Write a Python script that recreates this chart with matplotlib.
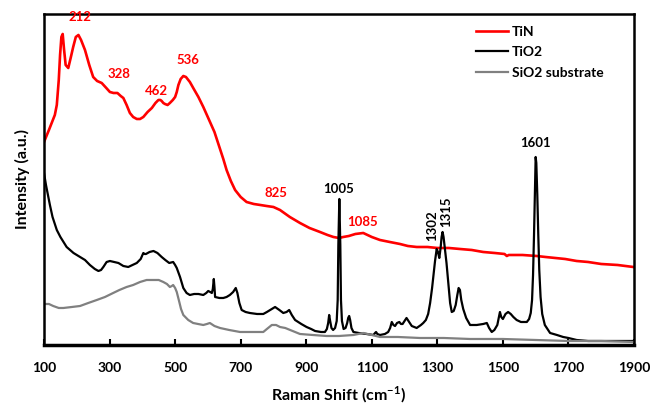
import numpy as np
import matplotlib
matplotlib.use('Agg')
import matplotlib.pyplot as plt

plt.rcParams['font.family'] = ['Lato', 'DejaVu Sans']
plt.rcParams['font.weight'] = 'bold'
plt.rcParams['mathtext.fontset'] = 'custom'
plt.rcParams['mathtext.rm'] = 'Lato'
plt.rcParams['mathtext.bf'] = 'Lato:bold'

# TiN spectrum (Raman shift, intensity a.u.)
tin_x = [100, 115, 133, 139, 145, 149, 153, 157, 161, 166, 174, 182, 189, 197, 205, 213,
         225, 238, 250, 262, 276, 290, 301, 312, 324, 334, 342, 352, 362, 372, 383,
         393, 403, 416, 429, 440, 449, 455, 459, 464, 469, 477, 484, 493, 500, 505,
         510, 517, 525, 533, 545, 557, 571, 586, 601, 620, 637, 647, 657, 670, 683,
         700, 718, 740, 760, 779, 800, 820, 850, 881, 910, 942, 965, 983, 1000, 1013,
         1030, 1050, 1074, 1100, 1125, 1155, 1186, 1210, 1237, 1270, 1300, 1335, 1369,
         1405, 1440, 1475, 1505, 1512, 1518, 1525, 1560, 1603, 1630, 1660, 1690, 1725,
         1760, 1800, 1850, 1898]
tin_y = [203, 215, 230, 240, 265, 290, 308, 311, 296, 280, 277, 288, 298, 308, 310, 305,
         295, 280, 268, 264, 262, 257, 253, 252, 252, 249, 247, 240, 232, 228, 226,
         226, 228, 233, 237, 242, 245, 245, 244, 242, 241, 240, 242, 245, 248, 253,
         260, 266, 269, 268, 263, 256, 248, 238, 227, 213, 196, 186, 175, 164, 155,
         148, 143, 141, 140, 139, 138, 135, 128, 122, 117, 113, 110, 108, 107, 108,
         109, 111, 112, 108, 105, 103, 101, 99, 98, 98, 97, 97, 96,
         95, 93, 92, 91, 89, 90, 90, 90, 89, 88, 87, 86, 84,
         83, 81, 80, 78]

# TiO2 spectrum
tio2_x = [100, 106, 112, 118, 126, 139, 150, 169, 190, 210, 225, 240, 255, 266, 274,
          281, 291, 301, 314, 327, 342, 357, 370, 383, 395, 403, 407, 411, 422, 434,
          446, 459, 470, 482, 494, 500, 505, 515, 525, 535, 545, 558, 571, 586, 595,
          601, 607, 612, 615, 618, 620, 622, 635, 647, 657, 667, 677, 685, 690, 696,
          703, 715, 728, 750, 769, 780, 790, 805, 818, 830, 840, 848, 856, 866, 885,
          901, 915, 927, 945, 957, 963, 967, 970, 973, 977, 982, 988, 993, 996, 998,
          1001, 1004, 1006, 1009, 1014, 1020, 1025, 1028, 1031, 1034, 1038, 1044, 1060, 1084,
          1105, 1110, 1113, 1117, 1125, 1140, 1150, 1156, 1161, 1166, 1171, 1177, 1184,
          1189, 1194, 1200, 1206, 1214, 1222, 1237, 1250, 1257, 1265, 1272, 1278, 1284,
          1289, 1293, 1298, 1302, 1306, 1310, 1313, 1316, 1319, 1323, 1328, 1334, 1339,
          1344, 1350, 1356, 1361, 1365, 1369, 1373, 1379, 1388, 1400, 1420, 1440, 1451,
          1458, 1466, 1474, 1483, 1488, 1491, 1495, 1500, 1508, 1516, 1524, 1532, 1542,
          1555, 1565, 1573, 1580, 1585, 1589, 1592, 1595, 1598, 1600, 1602, 1605, 1608,
          1611, 1615, 1620, 1628, 1644, 1665, 1684, 1700, 1725, 1760, 1800, 1850, 1898]
tio2_y = [172, 160, 150, 140, 128, 115, 108, 98, 92, 88, 85, 80, 76, 74, 75,
          78, 83, 84, 83, 82, 79, 78, 80, 82, 86, 92, 91, 91, 93, 94,
          92, 88, 85, 82, 83, 80, 77, 68, 57, 52, 50, 51, 51, 50, 52,
          54, 53, 52, 56, 66, 58, 48, 47, 47, 48, 50, 53, 57, 52, 42,
          35, 33, 32, 31, 31, 33, 35, 38, 35, 32, 33, 35, 30, 25, 21,
          18, 16, 14, 13, 13, 16, 22, 30, 24, 17, 15, 17, 24, 45, 100,
          146, 100, 45, 24, 16, 17, 22, 27, 29, 25, 17, 13, 12, 11,
          10, 12, 13, 11, 10, 11, 13, 17, 23, 20, 19, 22, 23,
          21, 21, 24, 27, 23, 19, 17, 20, 22, 25, 31, 42, 57,
          72, 84, 96, 93, 87, 97, 108, 113, 108, 96, 82, 60, 42,
          33, 34, 40, 50, 57, 55, 45, 36, 27, 20, 20, 21, 22,
          17, 13, 15, 20, 28, 33, 28, 26, 31, 33, 31, 28, 25,
          23, 23, 23, 26, 32, 45, 70, 110, 160, 188, 182, 150, 110,
          75, 48, 31, 20, 12, 10, 8, 7, 5, 4, 4, 4, 4]

# SiO2 substrate spectrum
sio2_x = [100, 115, 128, 145, 159, 185, 210, 235, 261, 286, 311, 330, 352, 372, 393,
          413, 433, 450, 464, 475, 484, 490, 494, 500, 505, 512, 518, 525, 540, 555,
          570, 586, 597, 606, 620, 637, 665, 698, 735, 769, 780, 795, 808, 820, 836,
          851, 866, 881, 920, 962, 1000, 1044, 1074, 1100, 1125, 1180, 1247, 1320,
          1400, 1500, 1600, 1700, 1800, 1898]
sio2_y = [41, 41, 39, 37, 37, 38, 39, 42, 45, 48, 52, 55, 58, 60, 63,
          65, 65, 65, 63, 61, 58, 59, 60, 57, 53, 44, 36, 30, 25, 22,
          21, 20, 21, 22, 19, 17, 15, 13, 13, 13, 16, 20, 20, 18, 17,
          15, 13, 11, 10, 9, 9, 10, 12, 10, 8, 8, 7, 7,
          6, 6, 5, 4, 4, 3]

# peak labels
tin_peaks = ['212', '328', '462', '536', '825', '1085']
tin_peak_pos = [(210, 328), (329, 271), (442, 254), (539, 285), (808, 152), (1073, 123)]
tio2_peaks = ['1005', '1302', '1315', '1601']
tio2_peak_pos = [(1000, 156), (1283, 119), (1327, 133), (1598, 202)]
tio2_peak_rot = [0, 90, 90, 0]

fig = plt.figure(figsize=(6.54, 4.09), dpi=100)
ax = fig.add_axes([0.0673, 0.1565, 0.9021, 0.8093])

ax.plot(tin_x, tin_y, color='#FF0000', lw=1.9, label='TiN')
ax.plot(tio2_x, tio2_y, color='black', lw=1.6, label='TiO2')
ax.plot(sio2_x, sio2_y, color='#808080', lw=1.6, label='SiO2 substrate')

for t, (px, py) in zip(tin_peaks, tin_peak_pos):
    ax.text(px, py, t, color='#FF0000', fontsize=9.5, fontweight='bold',
            ha='center', va='center')
for t, (px, py), r in zip(tio2_peaks, tio2_peak_pos, tio2_peak_rot):
    ax.text(px, py, t, color='black', fontsize=9.5, fontweight='bold',
            ha='center', va='center', rotation=r)

ax.set_xlim(100, 1900)
ax.set_ylim(0, 331)
ax.set_xticks(np.arange(100, 1901, 200))
ax.set_yticks([])
ax.tick_params(axis='x', direction='in', length=4, width=1.5, pad=12, labelsize=10)
for lab in ax.get_xticklabels():
    lab.set_fontweight('bold')
for s in ax.spines.values():
    s.set_linewidth(1.8)
ax.spines['bottom'].set_linewidth(2.5)

ax.set_xlabel(r'Raman Shift (cm$^{\mathbf{-1}}$)', fontsize=11.5, fontweight='bold', labelpad=8)
ax.set_ylabel('Intensity (a.u.)', fontsize=11.5, fontweight='bold', labelpad=10)

ax.legend(loc='upper left', bbox_to_anchor=(0.72, 0.985), frameon=False,
          handlelength=2.3, handletextpad=0.3, labelspacing=0.6, borderpad=0,
          prop={'weight': 'bold', 'size': 10})

fig.savefig('out.png', dpi=100)
